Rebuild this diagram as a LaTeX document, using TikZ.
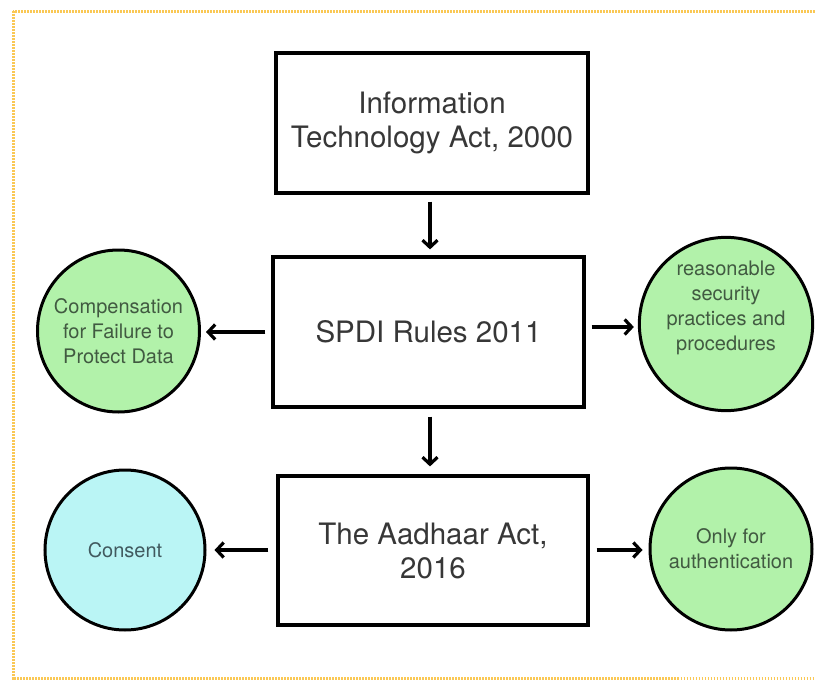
\documentclass[tikz,border=0pt]{standalone}
\usepackage{fontspec}
\setmainfont{TeX Gyre Heros}
\usetikzlibrary{arrows.meta}
\definecolor{boxtext}{RGB}{55,55,55}
\definecolor{greenfill}{RGB}{178,242,170}
\definecolor{cyanfill}{RGB}{186,245,245}
\definecolor{greentext}{RGB}{65,90,65}
\definecolor{cyantext}{RGB}{65,90,95}
\definecolor{framecol}{RGB}{250,200,85}
\tikzset{
  lawbox/.style={draw=black, line width=3.2pt, fill=white, minimum width=#1, inner sep=0pt, align=center,
    text=boxtext, font=\fontsize{29.5}{34}\selectfont},
  lawbox/.default={312pt},
  bubble/.style={circle, draw=black, line width=3pt, minimum size=160pt, inner sep=0pt, align=center,
    font=\fontsize{20}{25}\selectfont},
  gbubble/.style={bubble, fill=greenfill, text=greentext},
  cbubble/.style={bubble, fill=cyanfill, text=cyantext},
  conn/.style={line width=3.4pt, -{Straight Barb[length=7pt,width=15pt,line width=3.2pt]}},
}
\begin{document}
\begin{tikzpicture}[x=1pt,y=-1pt]
\useasboundingbox (0,0) rectangle (815,680);
\fill[white] (0,0) rectangle (815,680);
\begin{scope}
\clip (0,0) rectangle (815,680);
\draw[framecol, line width=3pt, dash pattern=on 1.6pt off 1.4pt] (13,11) rectangle (840,678.5);
\end{scope}

\node[lawbox=312pt, minimum height=140pt] (it) at (432,123) {Information\\Technology Act, 2000};
\node[lawbox=311pt, minimum height=150pt] (spdi) at (428.5,332) {SPDI Rules 2011};
\node[lawbox=310pt, minimum height=149pt] (aadhaar) at (433,550.5) {The Aadhaar Act,\\2016};

\node[gbubble, minimum size=162pt] (comp) at (118.5,331) {Compensation\\for Failure to\\Protect Data};
\node[gbubble, minimum size=166pt] (rsp) at (726,324) {reasonable\\security\\practices and\\procedures\\[12pt]};
\node[cbubble] (consent) at (125,550) {Consent};
\node[gbubble, minimum size=162pt] (auth) at (731,549) {Only for\\authentication};

\draw[conn, shorten <=7pt, shorten >=6pt] (it.south -| 430,0) -- (spdi.north -| 430,0);
\draw[conn, shorten <=8pt, shorten >=8pt] (spdi.south -| 430,0) -- (aadhaar.north -| 430,0);
\draw[conn, shorten <=6pt, shorten >=5pt] (spdi.west) -- (spdi.west -| comp.east);
\draw[conn, shorten <=6pt, shorten >=4pt] (spdi.east |- 0,327) -- (rsp.west |- 0,327);
\draw[conn, shorten <=8pt, shorten >=8pt] (aadhaar.west |- 0,550) -- (consent.east |- 0,550);
\draw[conn, shorten <=7pt, shorten >=6pt] (aadhaar.east |- 0,550) -- (auth.west |- 0,550);
\end{tikzpicture}
\end{document}
